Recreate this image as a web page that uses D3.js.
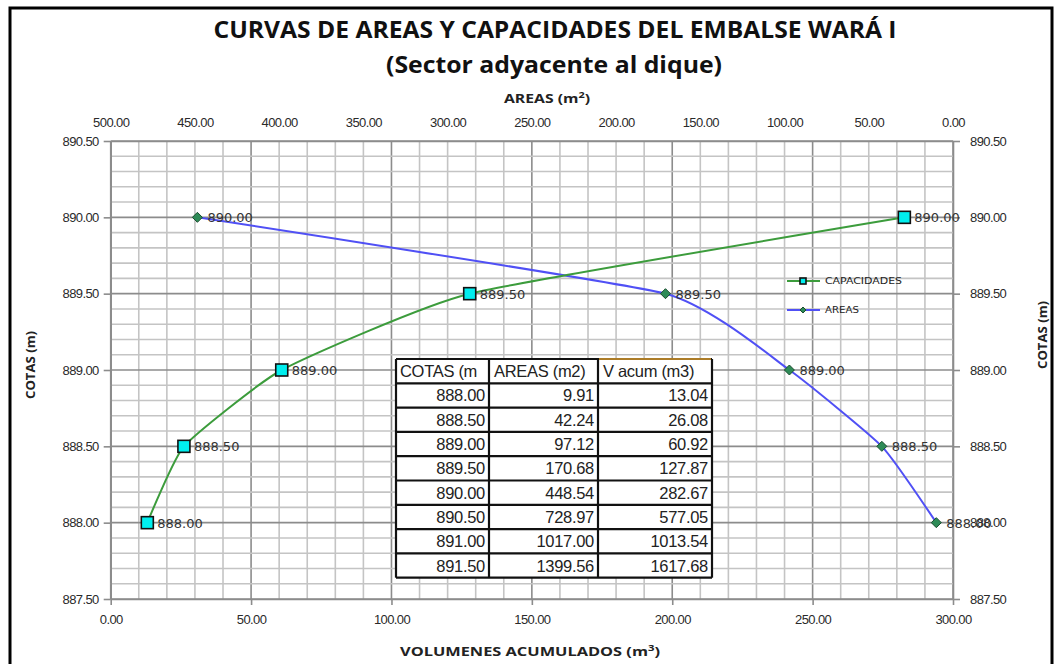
<!DOCTYPE html>
<html><head><meta charset="utf-8">
<script src="https://cdn.jsdelivr.net/npm/d3@7"></script>
<style>body{margin:0;background:#fff}svg{display:block}</style>
</head><body>
<script>
// ---- data ----
const cotas = [888.00, 888.50, 889.00, 889.50, 890.00];
const vAcum = [13.04, 26.08, 60.92, 127.87, 282.67];
const areas = [9.91, 42.24, 97.12, 170.68, 448.54];
const tableHeader = ["COTAS (m", "AREAS (m2)", "V acum (m3)"];
const tableCotas = ["888.00","888.50","889.00","889.50","890.00","890.50","891.00","891.50"];
const tableAreas = ["9.91","42.24","97.12","170.68","448.54","728.97","1017.00","1399.56"];
const tableVol = ["13.04","26.08","60.92","127.87","282.67","577.05","1013.54","1617.68"];
const yTicks = [887.5, 888.0, 888.5, 889.0, 889.5, 890.0, 890.5];
const xTicks = [0, 50, 100, 150, 200, 250, 300];
const xTopTicks = [500, 450, 400, 350, 300, 250, 200, 150, 100, 50, 0];

const W = 1062, H = 664;
const svg = d3.select("body").append("svg").attr("width", W).attr("height", H);
const L = 110.7, R = 953, T = 141, B = 599;
const x = d3.scaleLinear().domain([0, 300]).range([L, R]);
const xTop = d3.scaleLinear().domain([0, 500]).range([R, L]);
const y = d3.scaleLinear().domain([887.5, 890.5]).range([B, T]);
const fmt = d3.format(".2f");
const tickFont = "'Liberation Sans', Arial, sans-serif";

// frame
svg.append("path").attr("d", `M10,664 L10,8 L1052,8 L1052,664`).attr("fill", "none")
  .attr("stroke", "#000").attr("stroke-width", 3);

// gridlines
const g = svg.append("g");
d3.range(0, 301, 10).forEach(v => {
  const major = v % 50 === 0;
  g.append("line").attr("x1", x(v)).attr("x2", x(v)).attr("y1", T).attr("y2", B)
    .attr("stroke", major ? "#8c8c8c" : "#c4c4c4").attr("stroke-width", 1.6);
});
d3.range(0, 31).forEach(i => {
  const v = 887.5 + i * 0.1;
  const major = i % 5 === 0;
  g.append("line").attr("x1", L).attr("x2", R).attr("y1", y(v)).attr("y2", y(v))
    .attr("stroke", major ? "#8c8c8c" : "#c4c4c4").attr("stroke-width", 1.6);
});

// axes
function styleAxis(sel) {
  sel.select(".domain").attr("stroke", "#8c8c8c").attr("stroke-width", 1.6);
  sel.selectAll(".tick line").attr("stroke", "#8c8c8c").attr("stroke-width", 1.6);
  sel.selectAll("text").attr("font-family", tickFont).attr("font-size", 13)
    .attr("letter-spacing", "-0.6").attr("fill", "#2a2a2a");
}
const ax = svg.append("g").attr("transform", `translate(${L},0)`)
  .call(d3.axisLeft(y).tickValues(yTicks).tickFormat(fmt).tickSize(7).tickPadding(5).tickSizeOuter(0));
styleAxis(ax);
const axR = svg.append("g").attr("transform", `translate(${R},0)`)
  .call(d3.axisRight(y).tickValues(yTicks).tickFormat(fmt).tickSize(7).tickPadding(10).tickSizeOuter(0));
styleAxis(axR);
const axB = svg.append("g").attr("transform", `translate(0,${B})`)
  .call(d3.axisBottom(x).tickValues(xTicks).tickFormat(fmt).tickSize(6).tickPadding(10).tickSizeOuter(0));
styleAxis(axB);
const axT = svg.append("g").attr("transform", `translate(0,${T})`)
  .call(d3.axisTop(xTop).tickValues(xTopTicks).tickFormat(fmt).tickSize(0).tickPadding(14).tickSizeOuter(0));
styleAxis(axT);

// titles
const boldFont = "'Open Sans', 'Liberation Sans', sans-serif";
svg.append("text").attr("x", 555).attr("y", 38).attr("text-anchor", "middle")
  .attr("font-family", boldFont).attr("font-weight", "bold").attr("font-size", 24)
  .attr("textLength", 683).attr("lengthAdjust", "spacingAndGlyphs").attr("fill", "#111")
  .text("CURVAS DE AREAS Y CAPACIDADES DEL EMBALSE WARÁ I");
svg.append("text").attr("x", 554).attr("y", 73).attr("text-anchor", "middle")
  .attr("font-family", boldFont).attr("font-weight", "bold").attr("font-size", 24)
  .attr("textLength", 336).attr("lengthAdjust", "spacingAndGlyphs").attr("fill", "#111")
  .text("(Sector adyacente al dique)");
const t1 = svg.append("text").attr("x", 547).attr("y", 103).attr("text-anchor", "middle")
  .attr("font-family", boldFont).attr("font-weight", "bold").attr("font-size", 13).attr("fill", "#222")
  .attr("textLength", 86).attr("lengthAdjust", "spacingAndGlyphs");
t1.append("tspan").text("AREAS (m");
t1.append("tspan").attr("font-size", 9).attr("dy", -5).text("2");
t1.append("tspan").attr("dy", 5).text(")");
const t2 = svg.append("text").attr("x", 530).attr("y", 656).attr("text-anchor", "middle")
  .attr("font-family", boldFont).attr("font-weight", "bold").attr("font-size", 13).attr("fill", "#222")
  .attr("textLength", 260).attr("lengthAdjust", "spacingAndGlyphs");
t2.append("tspan").text("VOLUMENES ACUMULADOS (m");
t2.append("tspan").attr("font-size", 9).attr("dy", -5).text("3");
t2.append("tspan").attr("dy", 5).text(")");
[[35, 365], [1047, 335]].forEach(([cx, cy]) => {
  svg.append("text").attr("transform", `translate(${cx},${cy}) rotate(-90)`).attr("text-anchor", "middle")
    .attr("font-family", boldFont).attr("font-weight", "bold").attr("font-size", 13).attr("fill", "#222")
    .attr("textLength", 68).attr("lengthAdjust", "spacingAndGlyphs").text("COTAS (m)");
});

// table
const colX = [396, 489, 598, 712];
const tTop = 359, rowH = 24.3;
const tbl = svg.append("g");
const rows = [tableHeader].concat(tableCotas.map((c, i) => [c, tableAreas[i], tableVol[i]]));
tbl.append("rect").attr("x", colX[0]).attr("y", tTop).attr("width", colX[3] - colX[0])
  .attr("height", rowH * rows.length).attr("fill", "#fff");
const defs = svg.append("defs");
rows.forEach((r, ri) => {
  r.forEach((txt, ci) => {
    const cx0 = colX[ci], cx1 = colX[ci + 1], cy0 = tTop + ri * rowH;
    const id = `clip${ri}_${ci}`;
    defs.append("clipPath").attr("id", id).append("rect")
      .attr("x", cx0 + 1).attr("y", cy0).attr("width", cx1 - cx0 - 2).attr("height", rowH);
    tbl.append("text").attr("clip-path", `url(#${id})`)
      .attr("x", ri === 0 ? (ci === 0 ? cx0 + 4 : cx0 + 5) : cx1 - 4)
      .attr("y", cy0 + rowH / 2 + 6)
      .attr("text-anchor", ri === 0 ? "start" : "end")
      .attr("font-family", "'Liberation Sans', Arial, sans-serif").attr("font-size", 16.5)
      .attr("letter-spacing", "-0.3").attr("fill", "#222").text(txt);
  });
  tbl.append("line").attr("x1", colX[0]).attr("x2", colX[3])
    .attr("y1", tTop + ri * rowH).attr("y2", tTop + ri * rowH)
    .attr("stroke", "#111").attr("stroke-width", 2.2);
});
tbl.append("line").attr("x1", colX[0]).attr("x2", colX[3])
  .attr("y1", tTop + rows.length * rowH).attr("y2", tTop + rows.length * rowH)
  .attr("stroke", "#111").attr("stroke-width", 2.2);
colX.forEach(cx => tbl.append("line").attr("x1", cx).attr("x2", cx)
  .attr("y1", tTop).attr("y2", tTop + rows.length * rowH).attr("stroke", "#111").attr("stroke-width", 2.2));
tbl.append("line").attr("x1", colX[2] + 1).attr("x2", colX[3] - 1).attr("y1", tTop).attr("y2", tTop)
  .attr("stroke", "#e0a030").attr("stroke-width", 1.5);

// curves
const capPts = cotas.map((c, i) => [x(vAcum[i]), y(c)]);
const areaPts = cotas.map((c, i) => [xTop(areas[i]), y(c)]);
const line = d3.line().curve(d3.curveCardinal.tension(0.55));
svg.append("path").attr("d", line(areaPts)).attr("fill", "none").attr("stroke", "#5050f5").attr("stroke-width", 2);
svg.append("path").attr("d", line(capPts)).attr("fill", "none").attr("stroke", "#3c9c3c").attr("stroke-width", 2);

const lblFont = "'DejaVu Sans', Verdana, sans-serif";
function diamond(gp, cx, cy, s) {
  gp.append("path").attr("d", `M${cx},${cy - s} L${cx + s},${cy} L${cx},${cy + s} L${cx - s},${cy} Z`)
    .attr("fill", "#2e8b57").attr("stroke", "#1a4d2e").attr("stroke-width", 1);
}
function square(gp, cx, cy, s) {
  gp.append("rect").attr("x", cx - s).attr("y", cy - s).attr("width", 2 * s).attr("height", 2 * s)
    .attr("fill", "#00eeee").attr("stroke", "#111").attr("stroke-width", 1.6);
}
areaPts.forEach((p, i) => {
  diamond(svg, p[0], p[1], 5);
  svg.append("text").attr("x", p[0] + 10).attr("y", p[1] + 5).attr("font-family", lblFont)
    .attr("font-size", 13).attr("fill", "#333").text(fmt(cotas[i]));
});
capPts.forEach((p, i) => {
  square(svg, p[0], p[1], 6);
  svg.append("text").attr("x", p[0] + 10).attr("y", p[1] + 5).attr("font-family", lblFont)
    .attr("font-size", 13).attr("fill", "#333").text(fmt(cotas[i]));
});

// legend
const lg = svg.append("g");
lg.append("line").attr("x1", 787).attr("x2", 820).attr("y1", 281).attr("y2", 281).attr("stroke", "#3c9c3c").attr("stroke-width", 2);
square(lg, 803, 281, 3);
lg.append("text").attr("x", 825).attr("y", 284).attr("font-family", lblFont).attr("font-size", 8)
  .attr("fill", "#222").attr("textLength", 77).attr("lengthAdjust", "spacingAndGlyphs").text("CAPACIDADES");
lg.append("line").attr("x1", 787).attr("x2", 820).attr("y1", 310).attr("y2", 310).attr("stroke", "#5050f5").attr("stroke-width", 2);
diamond(lg, 803, 310, 3);
lg.append("text").attr("x", 825).attr("y", 313).attr("font-family", lblFont).attr("font-size", 8)
  .attr("fill", "#222").attr("textLength", 34).attr("lengthAdjust", "spacingAndGlyphs").text("AREAS");
</script>
</body></html>
